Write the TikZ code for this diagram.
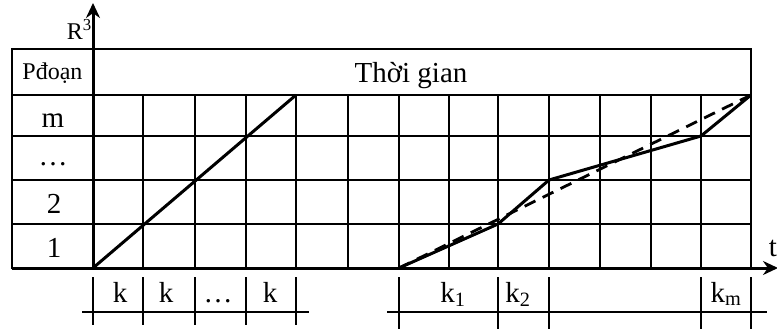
\documentclass[tikz,border=0pt]{standalone}
\usepackage{fontspec}
\setmainfont{Liberation Serif}
\usetikzlibrary{arrows.meta}
\begin{document}
\begin{tikzpicture}[x=1pt,y=-1pt,
  gridline/.style={line width=2pt},
  frame/.style={line width=2.5pt},
  axisline/.style={line width=3pt,-{Stealth[length=15pt,width=14pt]}},
  curve/.style={line width=3pt,line join=round},
  dashcurve/.style={line width=2.8pt,dash pattern=on 12pt off 8pt},
  tick/.style={line width=1.8pt},
  big/.style={font=\fontsize{29}{29}\selectfont,inner sep=0pt,anchor=base},
  small/.style={font=\fontsize{24}{24}\selectfont,inner sep=0pt,anchor=base}]
\useasboundingbox (0,0) rectangle (777,329);
% table
\draw[frame] (12,49) rectangle (751,268);
\draw[gridline] (12,95) -- (751,95);
\foreach \y in {136,180,224} \draw[gridline] (12,\y) -- (751,\y);
\foreach \x in {143,195,246,296,348,399,449,498,549,600,651,701}
  \draw[gridline] (\x,95) -- (\x,268);
% header texts
\node[small] (pdoan) at (52.5,80) {Pđoạn};
\node[big] (thoigian) at (411,82) {Thời gian};
\node[big] (rm) at (53,127) {m};
\node[big] (rdots) at (53,165) {\ldots};
\node[big] (r2) at (54,213) {2};
\node[big] (r1) at (54,257) {1};
% axes
\coordinate (o) at (93,268);
\coordinate (ytop) at (93,3);
\coordinate (xl) at (12,268);
\coordinate (xr) at (778,268);
\draw[axisline] (o) -- (ytop);
\draw[axisline] (xl) -- (xr);
\node[small,anchor=base east] (r3) at (92,40) {R\textsuperscript{3}};
\node[big,anchor=base east] (t) at (777,256) {t};
% left diagonal
\coordinate (d1) at (296,95);
\draw[curve] (o) -- (d1);
% right curves
\coordinate (o2) at (399,268);
\coordinate (p1) at (498,224);
\coordinate (p2) at (549,180);
\coordinate (p3) at (701,136);
\coordinate (p4) at (751,95);
\draw[curve] (o2) -- (p1) -- (p2) -- (p3) -- (p4);
\draw[dashcurve] (o2) -- (p4);
% bottom scale left
\draw[tick] (82,312) -- (309,312);
\foreach \x in {93,143,195,246,296} \draw[tick] (\x,277) -- (\x,325);
\node[big] (k1l) at (120,302) {k};
\node[big] (k2l) at (166,302) {k};
\node[big] (k3l) at (218,302) {\ldots};
\node[big] (k4l) at (270,302) {k};
% bottom scale right
\draw[tick] (387,312) -- (767,312);
\foreach \x in {399,498,549,701,751} \draw[tick] (\x,277) -- (\x,329);
\node[big] (kr1) at (453,302) {k\textsubscript{1}};
\node[big] (kr2) at (518,302) {k\textsubscript{2}};
\node[big] (krm) at (726,302) {k\textsubscript{m}};
\end{tikzpicture}
\end{document}
